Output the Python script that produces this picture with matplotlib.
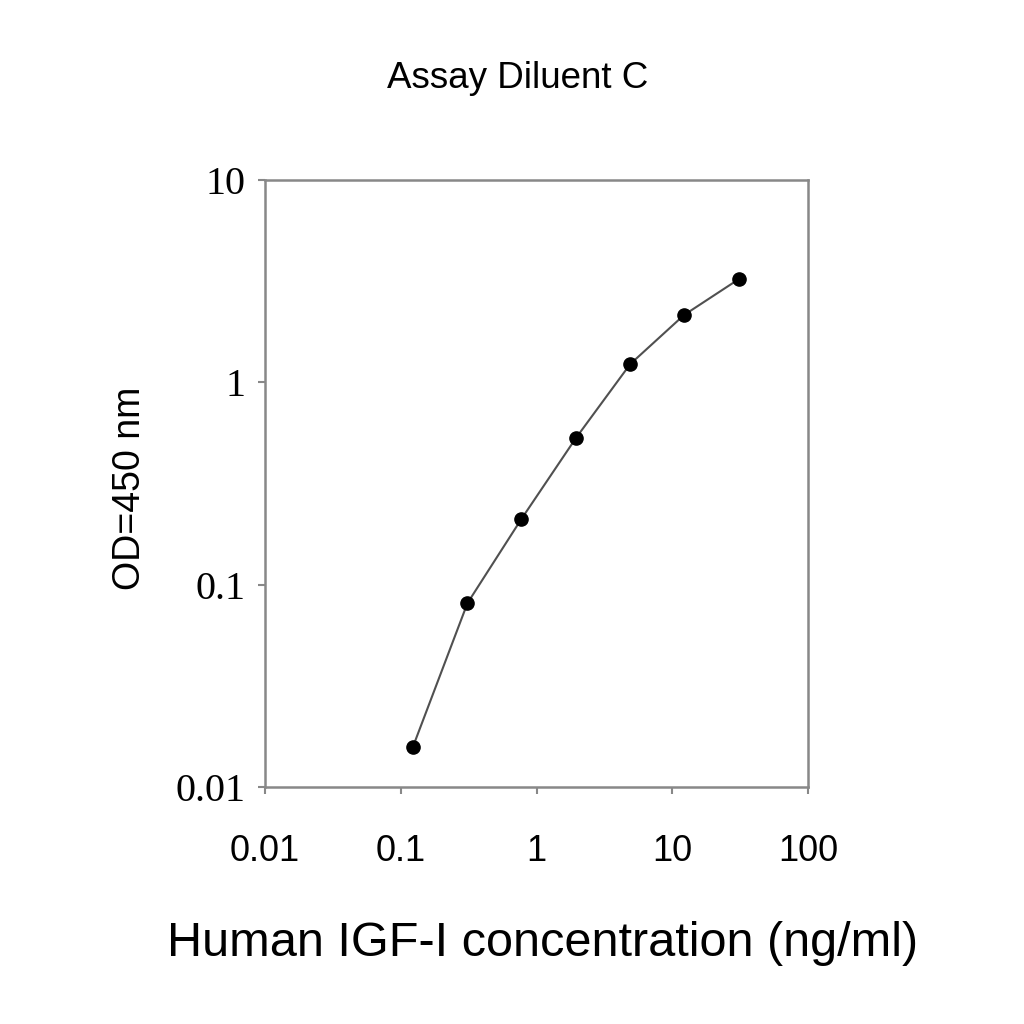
import matplotlib
matplotlib.use("Agg")
import matplotlib.pyplot as plt
from matplotlib.ticker import FixedLocator, NullLocator

conc = [0.123, 0.31, 0.77, 1.95, 4.9, 12.2, 31.0]
od = [0.0158, 0.081, 0.21, 0.53, 1.23, 2.15, 3.24]
xticks = [0.01, 0.1, 1, 10, 100]
xtick_labels = ["0.01", "0.1", "1", "10", "100"]
yticks = [0.01, 0.1, 1, 10]
ytick_labels = ["0.01", "0.1", "1", "10"]

fig = plt.figure(figsize=(10.24, 10.24), dpi=100)
ax = fig.add_axes([265/1024, 1-787/1024, 543/1024, 607/1024])
ax.set_xscale("log")
ax.set_yscale("log")
ax.set_xlim(0.01, 100)
ax.set_ylim(0.01, 10)

ax.plot(conc, od, color="#505050", lw=1.5, marker="o", markersize=9.5,
        markerfacecolor="black", markeredgecolor="black", zorder=3)

ax.xaxis.set_major_locator(FixedLocator(xticks))
ax.yaxis.set_major_locator(FixedLocator(yticks))
ax.xaxis.set_minor_locator(NullLocator())
ax.yaxis.set_minor_locator(NullLocator())
ax.set_xticklabels(xtick_labels, fontsize=26, family="Liberation Sans")
ax.set_yticklabels(ytick_labels, fontsize=29, family="Liberation Serif")
ax.tick_params(axis="x", direction="out", length=5, width=1.5, color="#888888", pad=29)
ax.tick_params(axis="y", direction="out", length=5, width=1.5, color="#888888", pad=9)

for s in ax.spines.values():
    s.set_color("#888888")
    s.set_linewidth(1.8)

fig.text(518/1024, 1-78/1024, "Assay Diluent C", ha="center", va="center",
         fontsize=26.5, family="Liberation Sans")
fig.text(543/1024, 1-943/1024, "Human IGF-I concentration (ng/ml)", ha="center",
         va="center", fontsize=35, family="Liberation Sans")
fig.text(130/1024, 1-488/1024, "OD=450 nm", ha="center", va="center",
         rotation=90, fontsize=27, family="Liberation Sans")

fig.savefig("out.png", dpi=100, facecolor="white")
